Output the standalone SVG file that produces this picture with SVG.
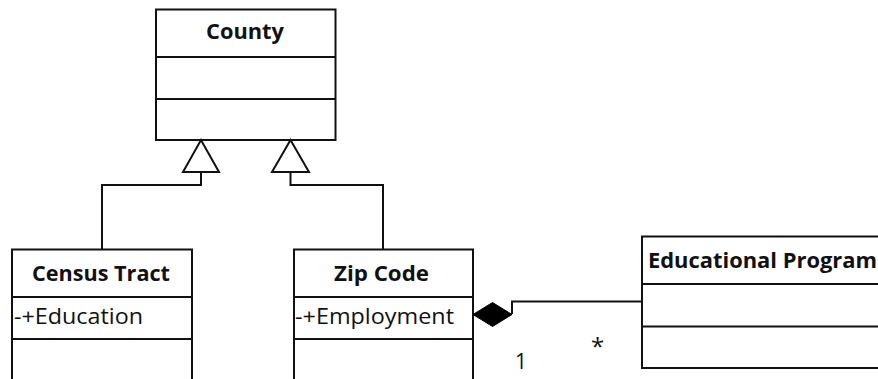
<svg xmlns="http://www.w3.org/2000/svg" width="878" height="379" viewBox="0 0 878 379">
<style>
.box{fill:#fff;stroke:#111;stroke-width:2}
.div{stroke:#111;stroke-width:2}
.t{font-family:"Open Sans",Lato,"Liberation Sans",sans-serif;font-size:21px;fill:#111}
.b{font-weight:bold}
.c{fill:none;stroke:#111;stroke-width:2}
.gen{fill:#fff;stroke:#111;stroke-width:2;stroke-linejoin:miter}
.comp{fill:#000;stroke:#000;stroke-width:1}
</style>
<rect width="878" height="379" fill="#fff"/>
<g id="county">
<rect class="box" x="156" y="9.5" width="179.5" height="130.5"/>
<line class="div" x1="156" y1="57" x2="335.5" y2="57"/>
<line class="div" x1="156" y1="99" x2="335.5" y2="99"/>
<text class="t b" x="206" y="39" textLength="78" lengthAdjust="spacingAndGlyphs">County</text>
</g>
<g id="census-tract">
<rect class="box" x="12" y="249.5" width="180" height="150"/>
<line class="div" x1="12" y1="297" x2="192" y2="297"/>
<line class="div" x1="12" y1="339" x2="192" y2="339"/>
<text class="t b" x="32" y="281" textLength="138" lengthAdjust="spacingAndGlyphs">Census Tract</text>
<text class="t" x="14" y="324" textLength="129" lengthAdjust="spacingAndGlyphs">-+Education</text>
</g>
<g id="zip-code">
<rect class="box" x="294" y="249.5" width="179" height="150"/>
<line class="div" x1="294" y1="297" x2="473" y2="297"/>
<line class="div" x1="294" y1="339" x2="473" y2="339"/>
<text class="t b" x="334" y="281" textLength="95" lengthAdjust="spacingAndGlyphs">Zip Code</text>
<text class="t" x="295" y="324" textLength="159" lengthAdjust="spacingAndGlyphs">-+Employment</text>
</g>
<g id="educational-program">
<rect class="box" x="642" y="236.5" width="260" height="131.5"/>
<line class="div" x1="642" y1="284" x2="902" y2="284"/>
<line class="div" x1="642" y1="326.5" x2="902" y2="326.5"/>
<text class="t b" x="648" y="268" textLength="229" lengthAdjust="spacingAndGlyphs">Educational Program</text>
</g>
<g id="connectors">
<path class="c" d="M102 249.5 V185 H201 V172"/>
<polygon class="gen" points="201,140 183,172 219,172"/>
<path class="c" d="M383 249.5 V185 H290.5 V172"/>
<polygon class="gen" points="290.5,140 272,172 309,172"/>
<path class="c" d="M512 314 V301.5 H642"/>
<polygon class="comp" points="473,314.5 492.5,302.5 512,314.5 492.5,326.5"/>
<text class="t" x="515" y="369">1</text>
<text class="t" x="591" y="355" style="font-size:24px">*</text>
</g>
</svg>
